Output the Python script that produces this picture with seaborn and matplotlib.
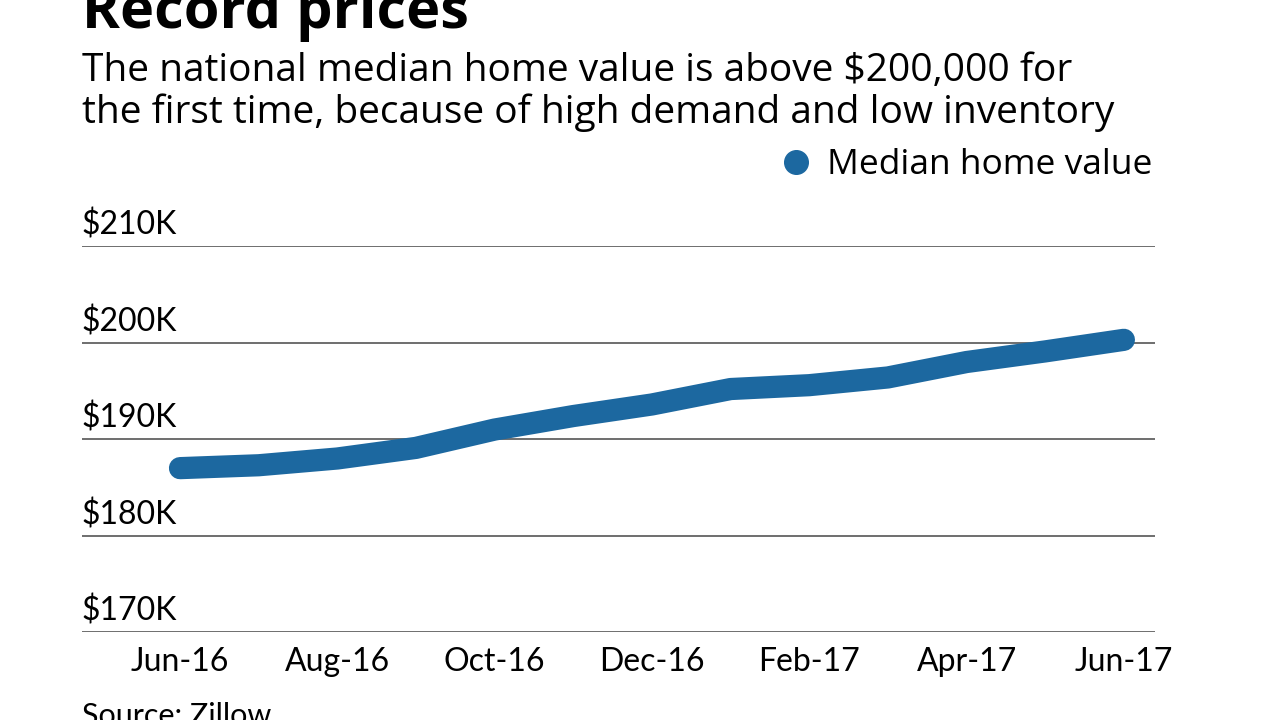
import numpy as np
import pandas as pd
import seaborn as sns
import matplotlib
matplotlib.use("Agg")
import matplotlib.pyplot as plt
from matplotlib.lines import Line2D

months = ["Jun-16", "Jul-16", "Aug-16", "Sep-16", "Oct-16", "Nov-16", "Dec-16",
          "Jan-17", "Feb-17", "Mar-17", "Apr-17", "May-17", "Jun-17"]
values = [187.0, 187.3, 188.0, 189.1, 191.0, 192.4, 193.6,
          195.2, 195.6, 196.4, 198.0, 199.1, 200.3]  # $K
y_ticks = [170, 180, 190, 200, 210]
y_labels = ["$170K", "$180K", "$190K", "$200K", "$210K"]
x_tick_idx = [0, 2, 4, 6, 8, 10, 12]

blue = "#1c68a0"
wide = "Open Sans"
narrow = "Lato"

sns.set_theme(style="white")
plt.rcParams["font.family"] = [narrow, "DejaVu Sans"]
plt.rcParams["text.color"] = "black"
plt.rcParams["xtick.color"] = "black"
plt.rcParams["ytick.color"] = "black"

df = pd.DataFrame({"idx": np.arange(len(months)), "value": values})

fig = plt.figure(figsize=(12.8, 7.2), dpi=100)
ax = fig.add_axes([0.064, 0.122, 0.838, 0.536])

sns.lineplot(data=df, x="idx", y="value", ax=ax, color=blue, linewidth=16,
             solid_capstyle="round", solid_joinstyle="round", clip_on=False,
             legend=False)

ax.set_ylim(170, 210)
ax.set_xlim(-1.247, 12.39)
ax.set_yticks(y_ticks)
ax.set_yticklabels([])
for y, lab in zip(y_ticks, y_labels):
    ax.axhline(y, color="#555555", linewidth=1.2, zorder=0)
    ax.text(0, y + 0.55, lab, transform=ax.get_yaxis_transform(),
            ha="left", va="bottom", fontsize=23, color="black")

ax.set_xticks(x_tick_idx)
ax.set_xticklabels([months[i] for i in x_tick_idx], fontsize=23)
ax.tick_params(axis="x", length=0, pad=11)
ax.tick_params(axis="y", length=0)
ax.set_xlabel("")
ax.set_ylabel("")
sns.despine(ax=ax, left=True, bottom=True)

fig.text(0.064, 1 - 28 / 720, "Record prices", fontsize=41.5, fontweight="bold",
         family=[wide, "DejaVu Sans"], ha="left", va="baseline")
fig.text(0.064, 1 - 81 / 720, "The national median home value is above $200,000 for",
         fontsize=28, family=[wide, "DejaVu Sans"], ha="left", va="baseline")
fig.text(0.064, 1 - 123 / 720, "the first time, because of high demand and low inventory",
         fontsize=28, family=[wide, "DejaVu Sans"], ha="left", va="baseline")
fig.text(0.064, 1 - 725 / 720, "Source: Zillow", fontsize=22, ha="left", va="baseline")

handle = Line2D([], [], marker="o", linestyle="none", markersize=17,
                markerfacecolor=blue, markeredgecolor=blue)
fig.legend([handle], ["Median home value"], loc="center right",
           bbox_to_anchor=(0.911, 1 - 165 / 720), frameon=False,
           prop={"family": wide, "size": 25.5},
           handletextpad=0.3, borderaxespad=0, handlelength=1.1)

fig.savefig("out.png", dpi=100)
